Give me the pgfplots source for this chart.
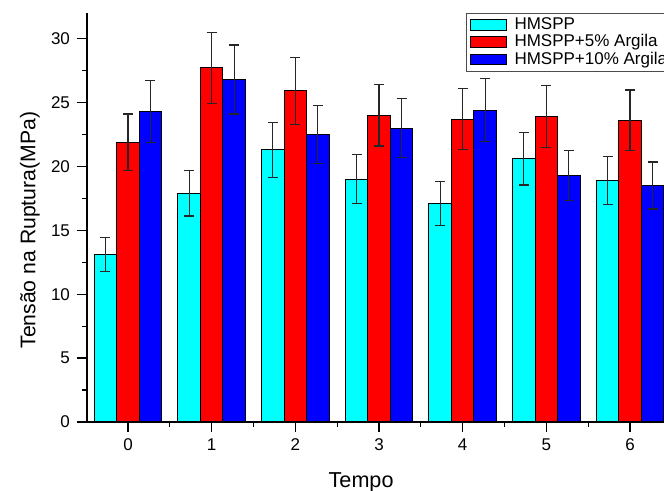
\documentclass[border=0pt]{standalone}
\usepackage{fontspec}
\setmainfont{Liberation Sans}
\usepackage{pgfplots}
\pgfplotsset{compat=1.18}
\definecolor{cy}{RGB}{0,255,255}
\definecolor{rd}{RGB}{255,0,0}
\definecolor{bl}{RGB}{0,0,255}

\begin{document}
\begin{tikzpicture}
\begin{axis}[
  scale only axis, width=288.5pt, height=204.5pt,
  xmin=-0.49, xmax=6.406, ymin=0, ymax=32,
  axis lines=left, axis line style={-, line width=0.6pt},
  ybar=0pt, bar width=11.25pt,
  xtick={0,...,6}, minor x tick num=1,
  ytick={0,5,...,30}, minor y tick num=1,
  tick align=outside, major tick length=5pt, minor tick length=2.5pt,
  tick style={black, line width=0.6pt},
  /pgf/number format/assume math mode=true,
  tick label style={font=\fontsize{8.5}{10}\selectfont},
  ylabel={Tensão na Ruptura(MPa)},
  ylabel style={font=\fontsize{10.6}{12}\selectfont, at={(axis description cs:-0.0988,0.469)}, anchor=center},
  xlabel={Tempo},
  xlabel style={font=\fontsize{10.8}{12}\selectfont, at={(axis description cs:0.475,0)}, yshift=-33pt, anchor=base},
  legend style={at={(0.656,1.0)}, anchor=north west, draw=black!70, line width=0.5pt,
    font=\fontsize{8.5}{9}\selectfont, cells={anchor=west}, row sep=0pt,
    nodes={inner ysep=0.5pt, inner xsep=1.5pt}, inner xsep=2pt, inner ysep=1.5pt},
  legend image code/.code={\draw[#1, line width=0.5pt] (0pt,-2.6pt) rectangle (18pt,2.6pt);
    \path[draw=none, fill=none] (0pt,0pt) rectangle (20.5pt,0.1pt);},
  error bars/y dir=both, error bars/y explicit,
  error bars/error bar style={black!85, line width=0.6pt},
  error bars/error mark options={rotate=90, mark size=2.5pt, black!85, line width=0.6pt},
]
\addplot[fill=cy, draw=black, line width=0.5pt] coordinates {
  (0,13.1) +- (0,1.33) (1,17.9) +- (0,1.79) (2,21.3) +- (0,2.14) (3,19.0) +- (0,1.9)
  (4,17.1) +- (0,1.7) (5,20.6) +- (0,2.05) (6,18.9) +- (0,1.9)};
\addlegendentry{HMSPP}
\addplot[fill=rd, draw=black, line width=0.5pt] coordinates {
  (0,21.9) +- (0,2.2) (1,27.7) +- (0,2.8) (2,25.9) +- (0,2.6) (3,24.0) +- (0,2.4)
  (4,23.7) +- (0,2.4) (5,23.9) +- (0,2.4) (6,23.6) +- (0,2.37)};
\addlegendentry{HMSPP+5\% Argila}
\addplot[fill=bl, draw=black, line width=0.5pt] coordinates {
  (0,24.3) +- (0,2.43) (1,26.8) +- (0,2.7) (2,22.5) +- (0,2.25) (3,23.0) +- (0,2.3)
  (4,24.4) +- (0,2.45) (5,19.3) +- (0,1.95) (6,18.5) +- (0,1.84)};
\addlegendentry{HMSPP+10\% Argila}
\end{axis}
\pgfresetboundingbox
\path ([xshift=-43.5pt,yshift=-34.5pt]current axis.south west) rectangle ([yshift=6.5pt]current axis.north east);
\end{tikzpicture}
\end{document}
